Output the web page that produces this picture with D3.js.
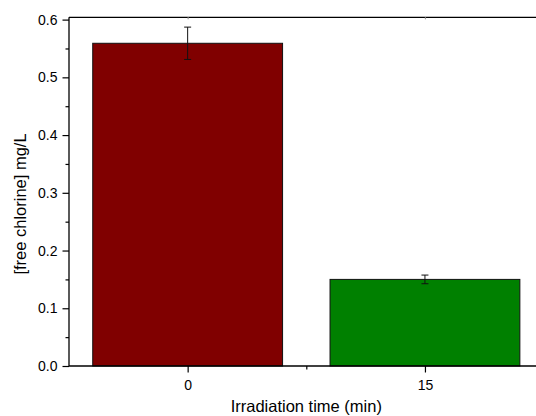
<!DOCTYPE html>
<html>
<head>
<meta charset="utf-8">
<script src="https://cdn.jsdelivr.net/npm/d3@7"></script>
<style>
  body { margin: 0; background: #fff; }
  svg { display: block; font-family: Arial, "Liberation Sans", sans-serif; }
</style>
</head>
<body>
<svg id="chart" width="536" height="416"></svg>
<script>
// data
let categories = ['0', '15'];
let values = [0.559, 0.150];
let errors = [0.028, 0.0075];
let colors = ['#800000', '#008000'];
let yTicks = [0.0, 0.1, 0.2, 0.3, 0.4, 0.5, 0.6];

let svg = d3.select('#chart');
let mLeft = 69, mRight = 543.6, mTop = 17.3, mBottom = 366;

let xscale = d3.scaleLinear().domain([-0.5, 1.5]).range([mLeft, mRight]);
let yscale = d3.scaleLinear().domain([0, 0.604]).range([mBottom, mTop]);
let barW = xscale(0.4) - xscale(-0.4);

// bars
svg.selectAll('.bar')
    .data(values)
    .enter().append('rect')
    .attr('class', 'bar')
    .attr('x', (d, i) => xscale(i) - barW / 2)
    .attr('y', d => yscale(d))
    .attr('width', barW)
    .attr('height', d => yscale(0) - yscale(d))
    .attr('fill', (d, i) => colors[i])
    .attr('stroke', '#111')
    .attr('stroke-width', 1);

// error bars
values.forEach((v, i) => {
    let cx = xscale(i);
    let g = svg.append('g').attr('stroke', '#111').attr('stroke-width', 1);
    g.append('line').attr('x1', cx).attr('x2', cx)
        .attr('y1', yscale(v + errors[i])).attr('y2', yscale(v - errors[i]));
    g.append('line').attr('x1', cx - 3.5).attr('x2', cx + 3.5)
        .attr('y1', yscale(v + errors[i])).attr('y2', yscale(v + errors[i]));
    g.append('line').attr('x1', cx - 3.5).attr('x2', cx + 3.5)
        .attr('y1', yscale(v - errors[i])).attr('y2', yscale(v - errors[i]));
});

// y axis
let yaxis = d3.axisLeft(yscale).tickValues(yTicks).tickFormat(d3.format('.1f')).tickSize(6.5).tickPadding(5);
let yg = svg.append('g').attr('transform', 'translate(' + mLeft + ',0)').call(yaxis);
let yMinor = d3.axisLeft(yscale).tickValues(yTicks.slice(0, -1).map(d => d + 0.05)).tickFormat('').tickSize(3.5);
svg.append('g').attr('transform', 'translate(' + mLeft + ',0)').call(yMinor).select('.domain').remove();

// x axis
let xaxis = d3.axisBottom(xscale).tickValues([0, 1]).tickFormat((d, i) => categories[i]).tickSize(6.5).tickPadding(7.5);
let xg = svg.append('g').attr('transform', 'translate(0,' + mBottom + ')').call(xaxis);
let xMinor = d3.axisBottom(xscale).tickValues([0.5]).tickFormat('').tickSize(3.5);
svg.append('g').attr('transform', 'translate(0,' + mBottom + ')').call(xMinor).select('.domain').remove();

// top frame
let xtop = d3.axisBottom(xscale).tickValues([0, 1]).tickFormat('').tickSize(2);
let tg = svg.append('g').attr('transform', 'translate(0,' + mTop + ')').call(xtop);
tg.selectAll('.tick line').attr('stroke', '#999');

svg.selectAll('.domain').attr('stroke', '#000').attr('stroke-width', 1.3);
svg.selectAll('.tick line').attr('stroke-width', 1.2);
svg.selectAll('.tick text').attr('font-size', 14).attr('fill', '#000')
    .attr('font-family', 'Arial, "Liberation Sans", sans-serif');
yg.selectAll('.domain').attr('d', 'M0,' + mTop + 'V' + mBottom);
xg.selectAll('.domain').attr('d', 'M' + mLeft + ',0H' + mRight);
tg.selectAll('.domain').attr('d', 'M' + mLeft + ',0H' + mRight);

// axis titles
svg.append('text')
    .attr('transform', 'translate(26,204) rotate(-90)')
    .attr('text-anchor', 'middle')
    .attr('font-size', 16.5)
    .text('[free chlorine] mg/L');
svg.append('text')
    .attr('x', (mLeft + mRight) / 2).attr('y', 411.5)
    .attr('text-anchor', 'middle')
    .attr('font-size', 16.5)
    .text('Irradiation time (min)');
</script>
</body>
</html>
